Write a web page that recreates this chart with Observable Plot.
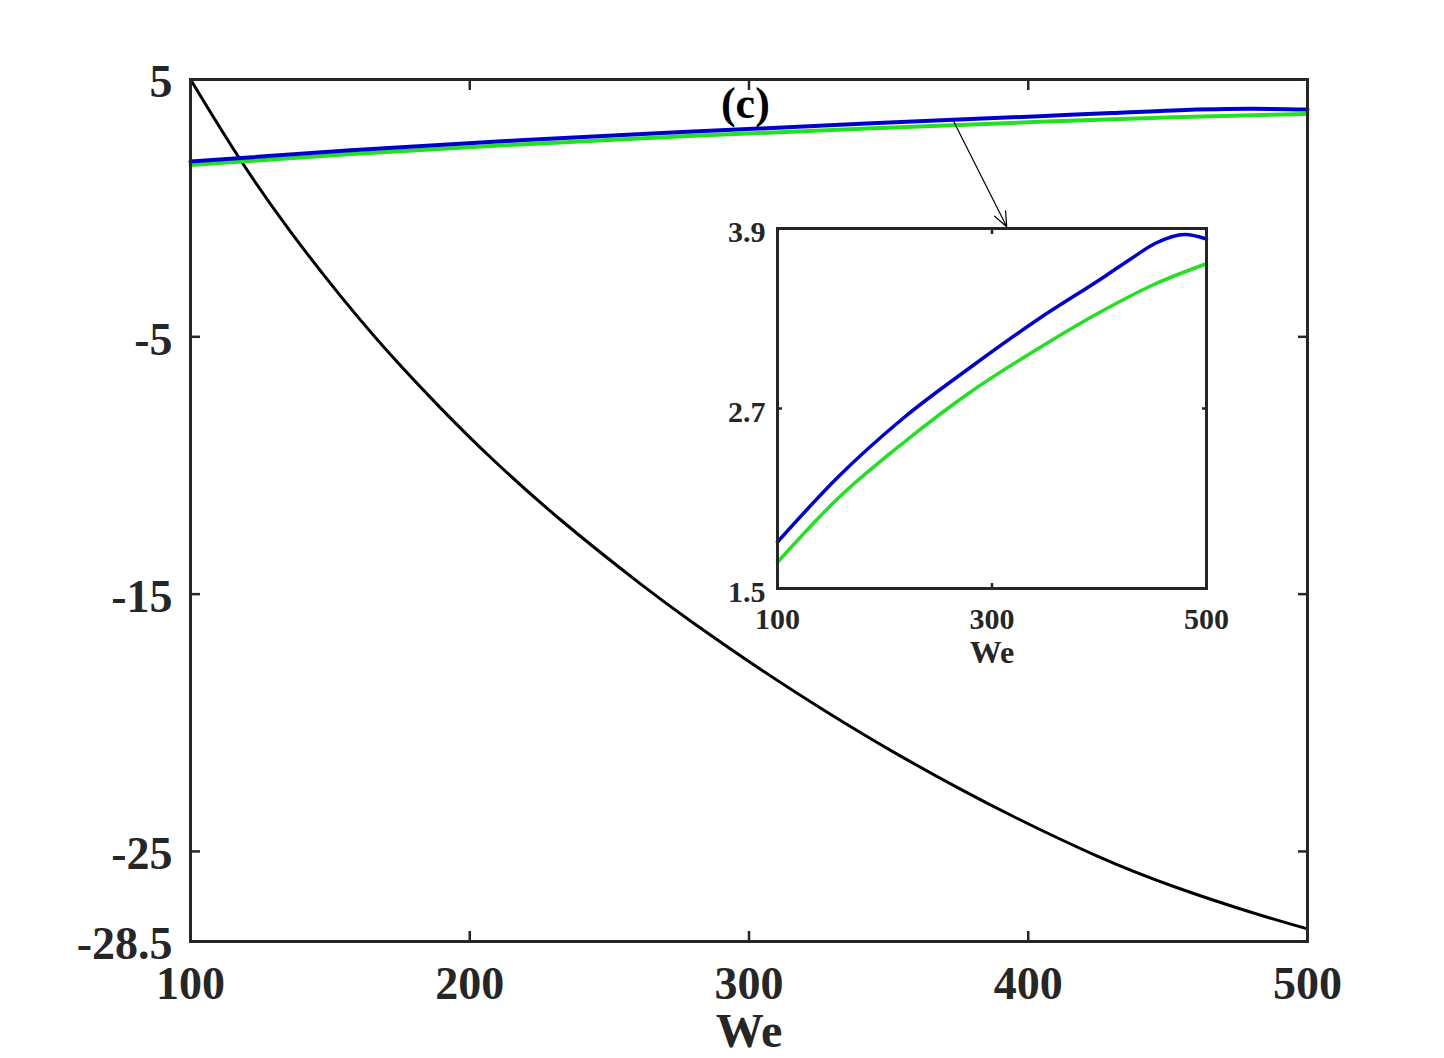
<!DOCTYPE html>
<html><head><meta charset="utf-8">
<script src="https://cdn.jsdelivr.net/npm/d3@7"></script>
<script src="https://cdn.jsdelivr.net/npm/@observablehq/plot@0.6"></script>
<style>
body{margin:0;background:#fff;}
#wrap{position:relative;width:1444px;height:1058px;}
#inset{position:absolute;left:697px;top:208px;}
</style></head><body><div id="wrap"><div id="main"></div><div id="inset"></div></div>
<script>
// ---- data ----
const blackWe  = [100, 117.9, 135.8, 153.7, 171.6, 189.5, 207.4, 232.5, 261, 280.2, 304.1, 328, 351.8, 375.7, 396.3, 424.7, 453.1, 481.5, 500];
const blackVal = [5.0, 1.87, -0.91, -3.41, -5.69, -7.76, -9.68, -12.11, -14.59, -16.13, -17.92, -19.59, -21.14, -22.58, -23.73, -25.18, -26.4, -27.42, -28.01];
const blueWe   = [100, 156, 218, 280, 342, 404, 430, 452, 480, 500];
const blueVal  = [1.81, 2.24, 2.64, 2.975, 3.29, 3.575, 3.70, 3.80, 3.86, 3.83];
const greenWe  = [100, 156, 218, 280, 342, 404, 452, 500];
const greenVal = [1.675, 2.098, 2.475, 2.81, 3.095, 3.355, 3.53, 3.665];
const mainXTicks = [100, 200, 300, 400, 500];
const mainYTicks = [5, -5, -15, -25, -28.5];
const insetXTicks = [100, 300, 500];
const insetYTicks = [1.5, 2.7, 3.9];
const panelLabel = [{x: 298.7, y: 4.07, text: "(c)"}];
const arrowAnn = [{x1: 373.4, y1: 3.35, x2: 392.3, y2: -0.72}];
const xLabel = "We";

const rows = (xs, ys) => xs.map((x, i) => ({We: x, v: ys[i]}));
const black = rows(blackWe, blackVal);
const blue = rows(blueWe, blueVal);
const green = rows(greenWe, greenVal);

const FONT = '"Liberation Serif","Times New Roman",serif';
const INK = "#262626";
const BLUE = "#0000cc";
const GREEN = "#22e022";

const main = Plot.plot({
  width: 1444, height: 1058,
  marginLeft: 190, marginRight: 137, marginTop: 79, marginBottom: 117,
  x: {domain: [100, 500]},
  y: {domain: [-28.5, 5]},
  style: {fontFamily: FONT, background: "transparent", color: INK},
  marks: [
    Plot.line(black, {x: "We", y: "v", stroke: "#000", strokeWidth: 3, curve: "natural"}),
    Plot.line(green, {x: "We", y: "v", stroke: GREEN, strokeWidth: 4, curve: "monotone-x"}),
    Plot.line(blue, {x: "We", y: "v", stroke: BLUE, strokeWidth: 4, curve: "monotone-x"}),
    Plot.arrow(arrowAnn, {x1: "x1", y1: "y1", x2: "x2", y2: "y2", stroke: "#000", strokeWidth: 1.2, headLength: 20, headAngle: 45}),
    Plot.text(panelLabel, {x: "x", y: "y", text: "text", fontSize: 44, fontWeight: "bold", fill: "#000"}),
    Plot.frame({stroke: INK, strokeWidth: 3}),
    Plot.axisX({ticks: mainXTicks, anchor: "bottom", tickSize: 0, tickPadding: 25, fontSize: 46, fontWeight: "bold", label: null, fill: INK}),
    Plot.axisX({ticks: mainXTicks, anchor: "bottom", tickSize: -10, fill: "none", label: null, strokeWidth: 2.5, stroke: INK}),
    Plot.axisX({ticks: mainXTicks, anchor: "top", tickSize: -10, fill: "none", label: null, strokeWidth: 2.5, stroke: INK}),
    Plot.axisY({ticks: mainYTicks, anchor: "left", tickSize: 0, tickPadding: 18, fontSize: 46, fontWeight: "bold", label: null, fill: INK, dy: 3, tickFormat: d => String(d)}),
    Plot.axisY({ticks: mainYTicks, anchor: "left", tickSize: -10, fill: "none", label: null, strokeWidth: 2.5, stroke: INK}),
    Plot.axisY({ticks: mainYTicks, anchor: "right", tickSize: -10, fill: "none", label: null, strokeWidth: 2.5, stroke: INK}),
    Plot.text([xLabel], {frameAnchor: "bottom", lineAnchor: "middle", dy: 90, fontSize: 48, fontWeight: "bold", fill: INK})
  ]
});
document.getElementById("main").appendChild(main);

const inset = Plot.plot({
  width: 549, height: 480,
  marginLeft: 80, marginRight: 40, marginTop: 20, marginBottom: 100,
  x: {domain: [100, 500]},
  y: {domain: [1.5, 3.9]},
  style: {fontFamily: FONT, background: "transparent", color: INK, overflow: "visible"},
  marks: [
    Plot.line(green, {x: "We", y: "v", stroke: GREEN, strokeWidth: 3.5, curve: "monotone-x"}),
    Plot.line(blue, {x: "We", y: "v", stroke: BLUE, strokeWidth: 3.5, curve: "monotone-x"}),
    Plot.frame({stroke: INK, strokeWidth: 3}),
    Plot.axisX({ticks: insetXTicks, anchor: "bottom", tickSize: 0, tickPadding: 19, fontSize: 30, fontWeight: "bold", label: null, fill: INK}),
    Plot.axisX({ticks: insetXTicks, anchor: "bottom", tickSize: -5, fill: "none", label: null, strokeWidth: 2.5, stroke: INK}),
    Plot.axisX({ticks: insetXTicks, anchor: "top", tickSize: -5, fill: "none", label: null, strokeWidth: 2.5, stroke: INK}),
    Plot.axisY({ticks: insetYTicks, anchor: "left", tickSize: 0, tickPadding: 12, fontSize: 30, fontWeight: "bold", label: null, fill: INK, dy: 4, tickFormat: d => d.toFixed(1)}),
    Plot.axisY({ticks: insetYTicks, anchor: "left", tickSize: -5, fill: "none", label: null, strokeWidth: 2.5, stroke: INK}),
    Plot.axisY({ticks: insetYTicks, anchor: "right", tickSize: -5, fill: "none", label: null, strokeWidth: 2.5, stroke: INK}),
    Plot.text([xLabel], {frameAnchor: "bottom", lineAnchor: "middle", dy: 64.5, fontSize: 32, fontWeight: "bold", fill: INK})
  ]
});
document.getElementById("inset").appendChild(inset);
</script>
</body></html>
